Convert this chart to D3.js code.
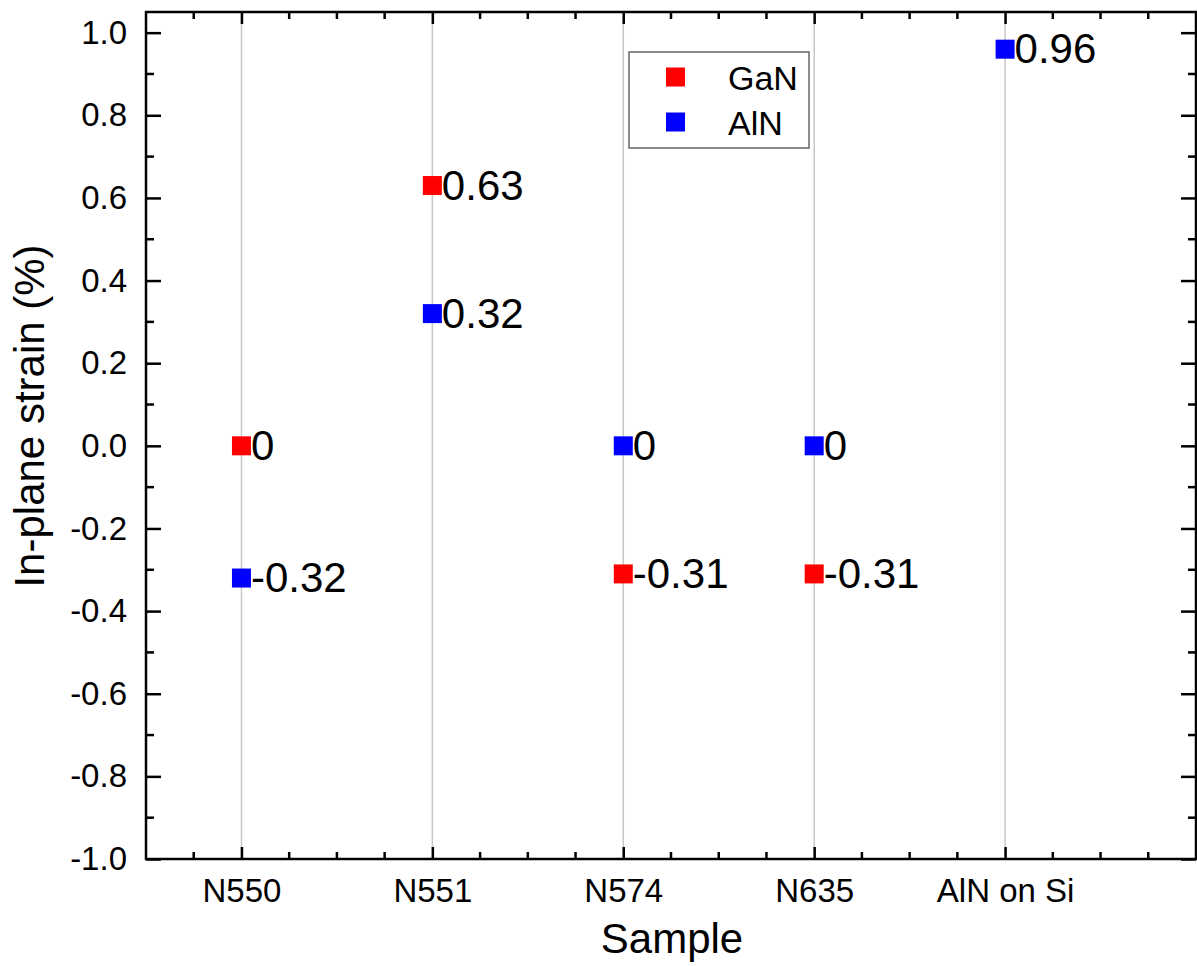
<!DOCTYPE html>
<html><head><meta charset="utf-8">
<script src="https://cdn.jsdelivr.net/npm/d3@7"></script>
<style>body{margin:0;background:#fff}svg{display:block}text{font-family:Arial,"Liberation Sans",sans-serif}</style>
</head><body>
<script>
const categories = ["N550","N551","N574","N635","AlN on Si"];
const ganValues = [0, 0.63, -0.31, -0.31, null];
const alnValues = [-0.32, 0.32, 0, 0, 0.96];
const ganLabels = ["0","0.63","-0.31","-0.31",null];
const alnLabels = ["-0.32","0.32","0","0","0.96"];
const yTicks = [-1.0,-0.8,-0.6,-0.4,-0.2,0.0,0.2,0.4,0.6,0.8,1.0];
const seriesNames = ["GaN","AlN"];
const seriesColors = ["#ff0000","#0000ff"];

const W=1197,H=966;
const L=146,R=1196,T=12,B=859;
const svg=d3.select("body").append("svg").attr("width",W).attr("height",H);
const x=d3.scaleLinear().domain([-0.5,5]).range([L,R]);
const y=d3.scaleLinear().domain([-1,1.05]).range([B,T]);

// grid lines
svg.append("g").selectAll("line").data(categories).join("line")
 .attr("x1",(d,i)=>x(i)).attr("x2",(d,i)=>x(i)).attr("y1",T).attr("y2",B)
 .attr("stroke","#c8c8c8").attr("stroke-width",1.5);

const minorX=d3.range(-0.25,5,0.25).filter(v=>Math.abs(v-Math.round(v))>1e-6);
const minorY=d3.range(-0.9,1.05,0.2);
const sw=2.5;
const fmtY=d=>d3.format(".1f")(d).replace("\u2212","-");
// bottom axis
const bx=svg.append("g").attr("transform",`translate(0,${B})`)
 .call(d3.axisBottom(x).tickValues(d3.range(0,5)).tickFormat(i=>categories[i]).tickSizeInner(-12).tickSizeOuter(0).tickPadding(20));
bx.select(".domain").remove();
bx.selectAll("line").attr("stroke-width",sw);
bx.selectAll("text").attr("font-size",33).attr("font-family","Arial, 'Liberation Sans', sans-serif").attr("fill","#000");
bx.append("g").selectAll("line").data(minorX).join("line").attr("x1",d=>x(d)).attr("x2",d=>x(d)).attr("y1",0).attr("y2",-7).attr("stroke","#000").attr("stroke-width",sw);
// top axis
const tx=svg.append("g").attr("transform",`translate(0,${T})`)
 .call(d3.axisTop(x).tickValues(d3.range(0,5)).tickFormat("").tickSizeInner(-12).tickSizeOuter(0));
tx.select(".domain").remove();
tx.selectAll("line").attr("stroke-width",sw);
tx.append("g").selectAll("line").data(minorX).join("line").attr("x1",d=>x(d)).attr("x2",d=>x(d)).attr("y1",0).attr("y2",7).attr("stroke","#000").attr("stroke-width",sw);
// left axis
const ly=svg.append("g").attr("transform",`translate(${L},0)`)
 .call(d3.axisLeft(y).tickValues(yTicks).tickFormat(fmtY).tickSizeInner(-15).tickSizeOuter(0).tickPadding(19));
ly.select(".domain").remove();
ly.selectAll("line").attr("stroke-width",sw);
ly.selectAll("text").attr("font-size",33).attr("font-family","Arial, 'Liberation Sans', sans-serif").attr("fill","#000");
ly.append("g").selectAll("line").data(minorY).join("line").attr("y1",d=>y(d)).attr("y2",d=>y(d)).attr("x1",0).attr("x2",8).attr("stroke","#000").attr("stroke-width",sw);
// right axis
const ry=svg.append("g").attr("transform",`translate(${R},0)`)
 .call(d3.axisRight(y).tickValues(yTicks).tickFormat("").tickSizeInner(-15).tickSizeOuter(0));
ry.select(".domain").remove();
ry.selectAll("line").attr("stroke-width",sw);
ry.append("g").selectAll("line").data(minorY).join("line").attr("y1",d=>y(d)).attr("y2",d=>y(d)).attr("x1",0).attr("x2",-8).attr("stroke","#000").attr("stroke-width",sw);
// frame
svg.append("rect").attr("x",L).attr("y",T).attr("width",R-L).attr("height",B-T).attr("fill","none").attr("stroke","#000").attr("stroke-width",sw);

// data
const ms=19;
[[ganValues,ganLabels],[alnValues,alnLabels]].forEach(([vals,labs],si)=>{
  const pts=vals.map((v,i)=>({i,v,l:labs[i]})).filter(d=>d.v!==null);
  const g=svg.append("g");
  g.selectAll("rect").data(pts).join("rect").attr("x",d=>x(d.i)-ms/2).attr("y",d=>y(d.v)-ms/2).attr("width",ms).attr("height",ms).attr("fill",seriesColors[si]);
  g.selectAll("text").data(pts).join("text").attr("x",d=>x(d.i)+ms/2).attr("y",d=>y(d.v)+14).attr("font-size",42).attr("fill","#000").text(d=>d.l);
});

// legend
const lg=svg.append("g");
lg.append("rect").attr("x",629).attr("y",52).attr("width",180).attr("height",96).attr("fill","#fff").attr("stroke","#666").attr("stroke-width",1.5);
seriesNames.forEach((n,i)=>{
  const cy=77+i*45;
  lg.append("rect").attr("x",666).attr("y",cy-9.5).attr("width",19).attr("height",19).attr("fill",seriesColors[i]);
  lg.append("text").attr("x",728).attr("y",cy+13).attr("font-size",34).attr("fill","#000").text(n);
});

// axis titles
svg.append("text").attr("x",672).attr("y",953).attr("text-anchor","middle").attr("font-size",42).text("Sample");
svg.append("text").attr("transform",`translate(44,416) rotate(-90)`).attr("text-anchor","middle").attr("font-size",42).text("In-plane strain (%)");
</script>
</body></html>
